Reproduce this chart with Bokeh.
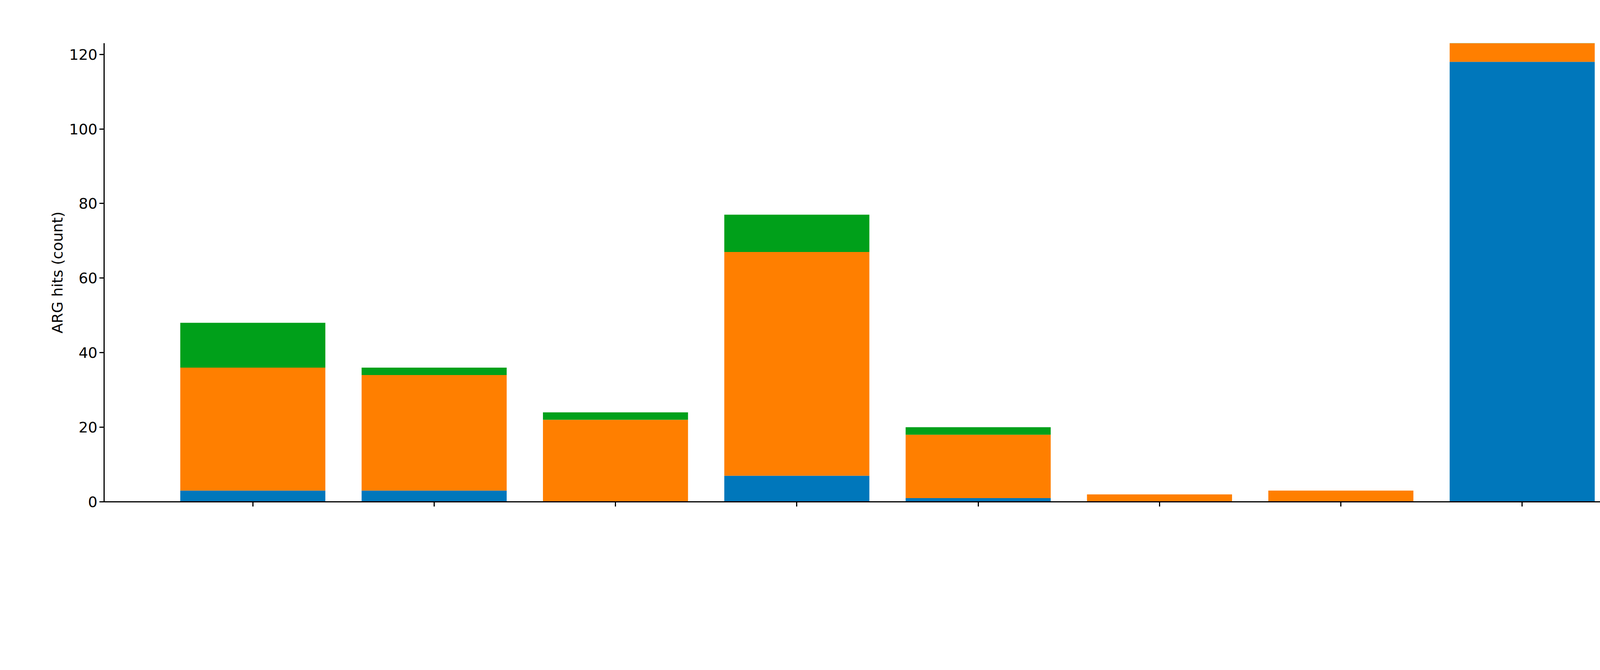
import math
from bokeh.plotting import figure
from bokeh.models import ColumnDataSource, Range1d, FixedTicker, Legend, LegendItem, Label
from bokeh.embed import file_html
from bokeh.resources import INLINE

categories = ["Tetracycline", "Sulfonamide", "Trimethoprim", "Aminoglycosides", "Phenicols",
              "Fluoroquinolones (PMQR)", "Polymyxins (mcr)", "Macrolides"]
chromosome = [3, 3, 0, 7, 1, 0, 0, 118]
plasmid = [33, 31, 22, 60, 17, 2, 3, 6]
mge = [12, 2, 2, 10, 2, 0, 0, 0]
y_ticks = [0, 20, 40, 60, 80, 100, 120]

xs = list(range(len(categories)))
t1 = list(chromosome)
t2 = [a + b for a, b in zip(chromosome, plasmid)]
t3 = [a + b for a, b in zip(t2, mge)]

p = figure(frame_width=3946, frame_height=1174, output_backend="svg", toolbar_location=None,
           x_range=Range1d(-0.82, 7.68), y_range=Range1d(0, 123))
p.min_border_left = 266
p.min_border_right = 50
p.min_border_bottom = 415
p.min_border_top = 110
p.outline_line_color = None
p.grid.visible = False

src = ColumnDataSource(dict(x=xs, b0=[0]*8, t1=t1, t2=t2, t3=t3))
r1 = p.vbar(x="x", bottom="b0", top="t1", width=0.8, source=src, fill_color="#0077BB", line_color=None)
r2 = p.vbar(x="x", bottom="t1", top="t2", width=0.8, source=src, fill_color="#FF7F00", line_color=None)
r3 = p.vbar(x="x", bottom="t2", top="t3", width=0.8, source=src, fill_color="#00A01A", line_color=None)

for ax in (p.xaxis[0], p.yaxis[0]):
    ax.axis_line_width = 3
    ax.major_tick_line_width = 3
    ax.major_tick_out = 12
    ax.major_tick_in = 0
    ax.minor_tick_line_color = None
    ax.major_label_text_font = "DejaVu Sans"
    ax.major_label_text_font_size = "38px"
    ax.major_label_text_color = "black"

p.xaxis.ticker = FixedTicker(ticks=xs)
p.xaxis.major_label_text_font_size = "0px"
p.yaxis.ticker = FixedTicker(ticks=y_ticks)
p.yaxis.axis_label = "ARG hits (count)"
p.yaxis.axis_label_text_font = "DejaVu Sans"
p.yaxis.axis_label_text_font_size = "38px"
p.yaxis.axis_label_text_font_style = "normal"
p.yaxis.axis_label_text_color = "black"

for i, c in enumerate(categories):
    p.add_layout(Label(x=i + 0.06, y=-3.0, text=c, angle=math.radians(25),
                       text_align="right", text_baseline="top",
                       text_font="DejaVu Sans", text_font_size="38px", text_color="black"))

legend = Legend(items=[LegendItem(label="Chromosome", renderers=[r1]),
                       LegendItem(label="Plasmid", renderers=[r2]),
                       LegendItem(label="MGE", renderers=[r3])],
                orientation="horizontal", location=(1025, 1190),
                border_line_color=None, background_fill_alpha=0,
                label_text_font="DejaVu Sans", label_text_font_size="38px",
                label_text_color="black",
                glyph_width=120, glyph_height=40, spacing=110, label_standoff=45,
                padding=4, margin=0)
p.add_layout(legend, "center")

open("out.html", "w").write(file_html(p, INLINE))
